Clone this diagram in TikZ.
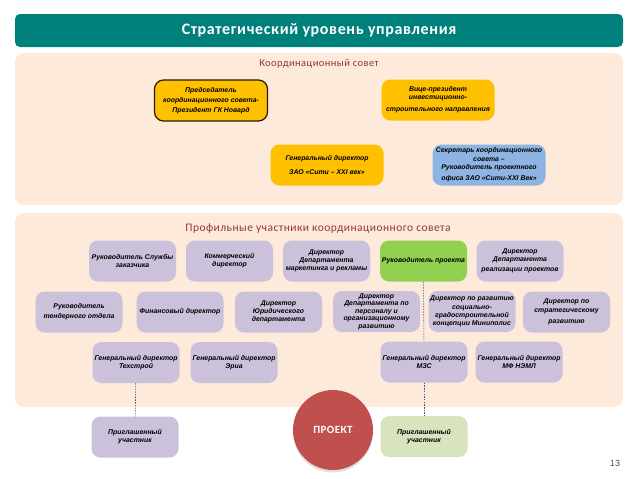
\documentclass[tikz,border=0pt]{standalone}
\usepackage{fontspec}
\setmainfont{Liberation Sans}
\newfontfamily\headfont[LetterSpace=4]{Carlito}
\usetikzlibrary{positioning,shadows}

\definecolor{teal}{HTML}{00807B}
\definecolor{peach}{HTML}{FDEADA}
\definecolor{rust}{HTML}{953734}
\definecolor{amber}{HTML}{FFC000}
\definecolor{sky}{HTML}{8EB4E3}
\definecolor{lav}{HTML}{CCC1DA}
\definecolor{leaf}{HTML}{92D050}
\definecolor{pale}{HTML}{D7E4BD}
\definecolor{brick}{HTML}{C0504D}
\definecolor{ink}{HTML}{3A5A85}

\begin{document}
\begin{tikzpicture}[x=1pt, y=-1pt,
    unit/.style={fill=lav, rounded corners=9pt, minimum width=87pt, minimum height=41pt,
        align=center, inner sep=1pt, font=\fontsize{6.9}{8.2}\selectfont\bfseries\itshape},
    chief/.style={unit, fill=amber, minimum width=113pt},
    link/.style={ink, line width=0.6pt, dash pattern=on 1.5pt off 1.2pt},
]
    \useasboundingbox (0,0) rectangle (638,479);

    % Header
    \node[fill=teal, rounded corners=5pt, minimum width=608pt, minimum height=33pt,
        text=white, font=\headfont\fontsize{16}{18}\selectfont\bfseries] (head) at (319, 30.5)
        {Стратегический уровень управления};

    % Panels
    \fill[peach, rounded corners=9pt] (15,53) rectangle (623,205);
    \fill[peach, rounded corners=9pt] (15,213) rectangle (623,407);
    \node[text=rust, font=\headfont\fontsize{10.5}{12}\selectfont] (council) at (319, 64) {Координационный совет};
    \node[text=rust, font=\headfont\fontsize{11.5}{13}\selectfont] (members) at (318, 229) {Профильные участники координационного совета};

    % Coordination council
    \node[chief, draw=black!80!brown, line width=1.2pt] (chair) at (211, 100.5)
        {Председатель\\[2pt] координационного совета-\\[2pt] Президент ГК Новард};
    \node[chief] (vice) at (438, 100)
        {Вице-президент\\ инвестиционно-\\[4pt] строительного направления};
    \node[chief] (gendir) at (327, 165)
        {Генеральный директор\\[5pt] ЗАО «Сити – XXI век»};
    \node[chief, fill=sky] (secr) at (489, 165)
        {Секретарь координационного\\ совета –\\ Руководитель проектного\\[3pt] офиса ЗАО «Сити-XXI Век»};

    % Row 1
    \node[unit] (client) at (132.5, 261) {Руководитель Службы\\ заказчика};
    \node[unit] (commerce) at (229.5, 261) {Коммерческий\\ директор};
    \node[unit] (market) at (326.5, 261) {Директор\\ Департамента\\ маркетинга и рекламы};
    \node[unit, fill=leaf] (lead) at (423.5, 261) {Руководитель проекта};
    \node[unit] (realize) at (520, 261) {Директор\\ Департамента\\[2pt] реализации проектов};

    % Row 2
    \node[unit] (tender) at (79, 312) {Руководитель\\[2pt] тендерного отдела};
    \node[unit] (finance) at (180, 312) {Финансовый директор};
    \node[unit] (legal) at (278.5, 312) {Директор\\ Юридического\\ департамента};
    \node[unit, font=\fontsize{6.9}{7.5}\selectfont\bfseries\itshape] (staff) at (376.5, 311.5)
        {Директор\\ Департамента по\\ персоналу и\\ организационному\\ развитию};
    \node[unit] (social) at (472, 311.5) {Директор по развитию\\ социально-\\ градостроительной\\ концепции Миниполис};
    \node[unit] (strategy) at (566.5, 312) {Директор по\\ стратегическому\\[3pt] развитию};

    % Row 3
    \node[unit] (tekhstroy) at (136, 362.5) {Генеральный директор\\ Техстрой};
    \node[unit] (eria) at (234, 362.5) {Генеральный директор\\ Эриа};
    \node[unit] (mzs) at (424, 362) {Генеральный директор\\ МЗС};
    \node[unit] (neml) at (519, 362) {Генеральный директор\\ МФ НЭМЛ};

    % Invited and project
    \node[unit] (guestL) at (135, 437) {Приглашенный\\ участник};
    \node[unit, fill=pale] (guestR) at (424, 436.5) {Приглашенный\\ участник};
    \node[circle, fill=brick, minimum size=80pt, text=white,
        drop shadow={opacity=0.25, shadow xshift=0pt, shadow yshift=-2.5pt},
        font=\headfont\fontsize{11}{13}\selectfont\bfseries] (project) at (333, 430) {ПРОЕКТ};

    % Dotted links
    \draw[link] (tekhstroy) -- (guestL);
    \draw[link] (lead) -- (mzs);
    \draw[link] (mzs) -- (guestR);

    \node[text=black!70, font=\fontsize{9}{10}\selectfont] (page) at (615, 463) {13};
\end{tikzpicture}
\end{document}
